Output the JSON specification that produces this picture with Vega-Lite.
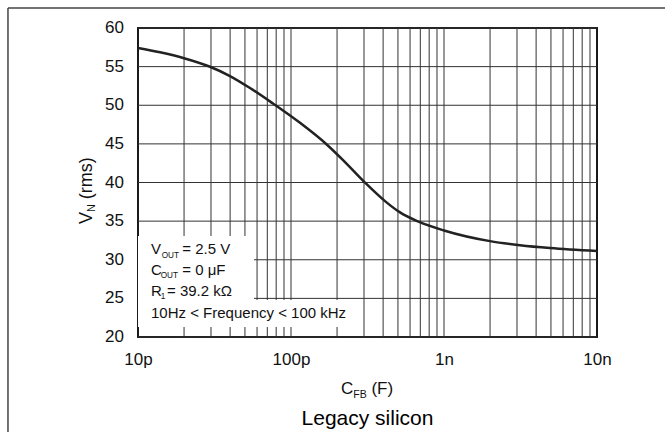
{
  "$schema": "https://vega.github.io/schema/vega-lite/v6.json",
  "width": 459,
  "height": 309,
  "autosize": {"type": "none"},
  "padding": {"left": 138, "top": 28, "right": 68, "bottom": 95},
  "background": "white",
  "config": {
    "view": {"stroke": "#1a1a1a", "strokeWidth": 2},
    "font": "Liberation Sans",
    "text": {"font": "Liberation Sans", "color": "#111"},
    "axis": {
      "title": null,
      "grid": false,
      "ticks": false,
      "domain": false,
      "labelFontSize": 17,
      "labelFont": "Liberation Sans",
      "labelColor": "#111",
      "labelFlush": false,
      "labelOverlap": false
    },
    "axisX": {"labelPadding": 14},
    "axisY": {"labels": false}
  },
  "datasets": {
    "curve": [
      {"c": 1e-11, "v": 57.4},
      {"c": 1.393e-11, "v": 56.85},
      {"c": 2e-11, "v": 56.09},
      {"c": 2.955e-11, "v": 54.98},
      {"c": 3.993e-11, "v": 53.78},
      {"c": 5.395e-11, "v": 52.23},
      {"c": 7.626e-11, "v": 50.22},
      {"c": 1.145e-10, "v": 47.72},
      {"c": 1.719e-10, "v": 44.89},
      {"c": 2.254e-10, "v": 42.64},
      {"c": 3.045e-10, "v": 39.99},
      {"c": 4.116e-10, "v": 37.59},
      {"c": 5.158e-10, "v": 36.13},
      {"c": 6.764e-10, "v": 34.96},
      {"c": 1e-9, "v": 33.79},
      {"c": 2e-9, "v": 32.41},
      {"c": 3.138e-9, "v": 31.88},
      {"c": 4.931e-9, "v": 31.51},
      {"c": 1e-8, "v": 31.13}
    ],
    "xgrid": [
      {"g": 2e-11}, {"g": 3e-11}, {"g": 4e-11}, {"g": 5e-11}, {"g": 6e-11}, {"g": 7e-11}, {"g": 8e-11}, {"g": 9e-11},
      {"g": 1e-10}, {"g": 2e-10}, {"g": 3e-10}, {"g": 4e-10}, {"g": 5e-10}, {"g": 6e-10}, {"g": 7e-10}, {"g": 8e-10}, {"g": 9e-10},
      {"g": 1e-9}, {"g": 2e-9}, {"g": 3e-9}, {"g": 4e-9}, {"g": 5e-9}, {"g": 6e-9}, {"g": 7e-9}, {"g": 8e-9}, {"g": 9e-9}
    ],
    "ygrid": [
      {"v": 20}, {"v": 25}, {"v": 30}, {"v": 35}, {"v": 40}, {"v": 45}, {"v": 50}, {"v": 55}, {"v": 60}
    ],
    "boxes": [
      {"x1": 1e-11, "x2": 5.73e-11, "y1": 33.07, "y2": 24.79},
      {"x1": 1e-11, "x2": 2.504e-10, "y1": 24.79, "y2": 21.29}
    ],
    "annoBig": [
      {"t": "V", "x": 1.216e-11, "y": 30.74},
      {"t": "= 2.5 V", "x": 1.945e-11, "y": 30.74},
      {"t": "C", "x": 1.216e-11, "y": 28.03},
      {"t": "= 0 μF", "x": 1.945e-11, "y": 28.03},
      {"t": "R", "x": 1.216e-11, "y": 25.31},
      {"t": "= 39.2 kΩ", "x": 1.547e-11, "y": 25.31},
      {"t": "10Hz < Frequency < 100 kHz", "x": 1.216e-11, "y": 22.46}
    ],
    "annoSmall": [
      {"t": "OUT", "x": 1.428e-11, "y": 30.74},
      {"t": "OUT", "x": 1.407e-11, "y": 28.03},
      {"t": "1", "x": 1.407e-11, "y": 25.31}
    ],
    "xtBig": [
      {"t": "C", "x": 2.122e-10, "y": 12.62},
      {"t": "(F)", "x": 3.355e-10, "y": 12.62}
    ],
    "xtSmall": [
      {"t": "FB", "x": 2.554e-10, "y": 12.62}
    ],
    "ytBig": [
      {"t": "V", "x": 5.005e-12, "y": 34.63},
      {"t": "(rms)", "x": 5.005e-12, "y": 37.84}
    ],
    "ytSmall": [
      {"t": "N", "x": 5.236e-12, "y": 36.18}
    ],
    "caption": [
      {"t": "Legacy silicon", "x": 3.162e-10, "y": 8.61}
    ],
    "frameTop": [
      {"x1": 1.413e-12, "x2": 1e-7, "y": 62.59}
    ],
    "frameLeft": [
      {"x": 1.413e-12, "y1": 62.59, "y2": 7.7}
    ]
  },
  "layer": [
    {
      "data": {"name": "xgrid"},
      "mark": {"type": "rule", "color": "#333", "strokeWidth": 1},
      "encoding": {
        "x": {
          "field": "g",
          "type": "quantitative",
          "scale": {"type": "log", "domain": [1e-11, 1e-8], "nice": false},
          "axis": {
            "labelExpr": "datum.value > 0.9e-11 && datum.value < 1.1e-11 ? '10p' : datum.value > 0.9e-10 && datum.value < 1.1e-10 ? '100p' : datum.value > 0.9e-9 && datum.value < 1.1e-9 ? '1n' : datum.value > 0.9e-8 ? '10n' : ''"
          }
        }
      }
    },
    {
      "data": {"name": "ygrid"},
      "mark": {"type": "rule", "color": "#333", "strokeWidth": 1},
      "encoding": {
        "y": {
          "field": "v",
          "type": "quantitative",
          "scale": {"domain": [20, 60], "nice": false, "zero": false}
        }
      }
    },
    {
      "data": {"name": "ygrid"},
      "mark": {"type": "text", "align": "right", "baseline": "middle", "fontSize": 17, "dx": -14, "color": "#111"},
      "encoding": {
        "x": {"datum": 1e-11, "type": "quantitative"},
        "y": {"field": "v", "type": "quantitative"},
        "text": {"field": "v", "type": "quantitative"}
      }
    },
    {
      "data": {"name": "boxes"},
      "mark": {"type": "rect", "color": "white", "opacity": 1},
      "encoding": {
        "x": {"field": "x1", "type": "quantitative"},
        "x2": {"field": "x2"},
        "y": {"field": "y1", "type": "quantitative"},
        "y2": {"field": "y2"}
      }
    },
    {
      "data": {"name": "curve"},
      "mark": {"type": "line", "interpolate": "monotone", "strokeWidth": 2.5, "color": "#222"},
      "encoding": {
        "x": {"field": "c", "type": "quantitative"},
        "y": {"field": "v", "type": "quantitative"}
      }
    },
    {
      "data": {"name": "annoBig"},
      "mark": {"type": "text", "align": "left", "baseline": "alphabetic", "fontSize": 15},
      "encoding": {
        "x": {"field": "x", "type": "quantitative"},
        "y": {"field": "y", "type": "quantitative"},
        "text": {"field": "t"}
      }
    },
    {
      "data": {"name": "annoSmall"},
      "mark": {"type": "text", "align": "left", "baseline": "alphabetic", "fontSize": 8.2, "dy": 3.5},
      "encoding": {
        "x": {"field": "x", "type": "quantitative"},
        "y": {"field": "y", "type": "quantitative"},
        "text": {"field": "t"}
      }
    },
    {
      "data": {"name": "xtBig"},
      "mark": {"type": "text", "align": "left", "baseline": "alphabetic", "fontSize": 17},
      "encoding": {
        "x": {"field": "x", "type": "quantitative"},
        "y": {"field": "y", "type": "quantitative"},
        "text": {"field": "t"}
      }
    },
    {
      "data": {"name": "xtSmall"},
      "mark": {"type": "text", "align": "left", "baseline": "alphabetic", "fontSize": 10.5, "dy": 3.5},
      "encoding": {
        "x": {"field": "x", "type": "quantitative"},
        "y": {"field": "y", "type": "quantitative"},
        "text": {"field": "t"}
      }
    },
    {
      "data": {"name": "ytBig"},
      "mark": {"type": "text", "align": "left", "baseline": "alphabetic", "fontSize": 18, "angle": 270},
      "encoding": {
        "x": {"field": "x", "type": "quantitative"},
        "y": {"field": "y", "type": "quantitative"},
        "text": {"field": "t"}
      }
    },
    {
      "data": {"name": "ytSmall"},
      "mark": {"type": "text", "align": "left", "baseline": "alphabetic", "fontSize": 10.8, "angle": 270},
      "encoding": {
        "x": {"field": "x", "type": "quantitative"},
        "y": {"field": "y", "type": "quantitative"},
        "text": {"field": "t"}
      }
    },
    {
      "data": {"name": "caption"},
      "mark": {"type": "text", "align": "center", "baseline": "alphabetic", "fontSize": 21, "color": "#000"},
      "encoding": {
        "x": {"field": "x", "type": "quantitative"},
        "y": {"field": "y", "type": "quantitative"},
        "text": {"field": "t"}
      }
    },
    {
      "data": {"name": "frameTop"},
      "mark": {"type": "rule", "color": "#444", "strokeWidth": 1.5},
      "encoding": {
        "x": {"field": "x1", "type": "quantitative"},
        "x2": {"field": "x2"},
        "y": {"field": "y", "type": "quantitative"}
      }
    },
    {
      "data": {"name": "frameLeft"},
      "mark": {"type": "rule", "color": "#444", "strokeWidth": 1.5},
      "encoding": {
        "x": {"field": "x", "type": "quantitative"},
        "y": {"field": "y1", "type": "quantitative"},
        "y2": {"field": "y2"}
      }
    }
  ]
}
